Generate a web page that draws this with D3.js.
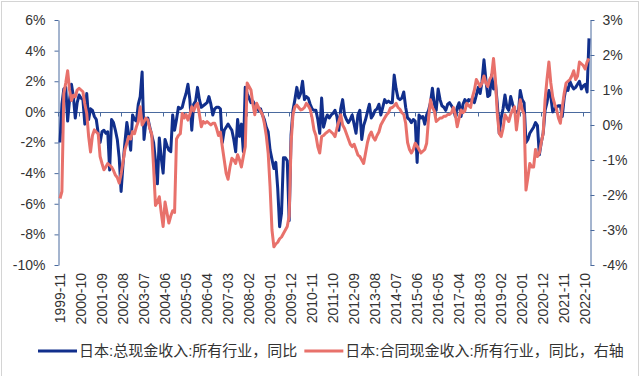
<!DOCTYPE html>
<html>
<head>
<meta charset="utf-8">
<script src="https://cdn.jsdelivr.net/npm/d3@7"></script>
<style>
  body { margin: 0; background: #fff; }
  svg text { font-family: "Liberation Sans", Arial, "Noto Sans CJK SC", sans-serif; fill: #333; }
</style>
</head>
<body>
<div id="chart"></div>
<script>
// monthly yoy, 1999-11 .. 2022-12
var startMonth = "1999-11";
var endMonth = "2022-12";

// total cash earnings, all industries, yoy % (left axis)
var totalCash = [
  -2.0, 0.5, 1.5, 1.6, -0.6, 0.8, 1.8, 1.0, -0.4, 0.6,
  1.1, 0.9, 0.8, -0.8, 1.2, -0.5, 0.2, 0.1, -0.3, -0.5,
  -1.4, -2.0, -1.3, -1.2, -1.4, -1.3, -3.8, -0.5, -0.7, -1.2,
  -1.8, -3.0, -5.2, -3.4, -2.0, -0.7, -1.5, -2.5, -0.2, -0.5,
  -0.6, 0.5, 1.0, 2.6, -1.8, -0.6, -0.4, -1.0, -1.5, -2.0,
  -3.2, -4.7, -1.7, -3.0, -4.0, -1.8, -2.2, -2.5, -2.6, -0.2,
  -1.2, -0.5, 0.3, 0.2, 0.3, 0.8, 1.2, 1.8, 0.8, -1.2,
  0.5, 0.7, 1.6, 0.8, 0.3, 0.4, 0.5, 0.6, 1.0, 0.5,
  -0.2, 0.2, 0.3, 0.3, 0.2, -2.0, -1.2, -1.0, -0.8, -1.0,
  -1.2, -1.8, -2.6, -0.5, -1.6, -0.8, -2.6, 1.6, 1.2, 0.9,
  0.6, 0.7, 0.5, 0.4, 0.1, 0.2, -0.2, -0.5, -1.0, -1.3,
  -2.5, -3.1, -3.7, -3.3, -5.0, -7.5, -6.6, -3.0, -3.0, -3.2,
  -7.1, -1.5, 0.1, 0.8, 1.6, 0.9, 1.2, 2.0, 0.8, 1.0,
  0.9, 0.5, 0.2, 0.1, 0.1, -0.5, -1.4, 0.9, -1.0, -0.5,
  -0.2, -0.4, -0.2, -0.1, 0.1, -0.3, -1.2, 0.2, 0.8, -0.2,
  -0.5, -0.7, -0.5, -0.2, -0.8, -1.4, -0.2, 0.1, -1.8, -0.9,
  -0.5, 0.0, 0.5, -0.4, -0.2, 0.1, 0.2, 0.5, -0.2, 0.3,
  0.8, 0.6, 0.7, 0.6, 0.6, 2.4, 1.5, 0.9, 0.8, 0.9,
  1.3, 0.3, -0.4, -0.5, -0.7, -0.5, -0.6, -3.3, -0.2, -0.4,
  -0.3, -0.8, -0.2, 0.1, 0.6, 1.55, 0.5, 0.1, 1.5, 0.8,
  0.4, 0.3, 0.1, 0.5, 0.6, 0.4, 0.2, -0.3, 0.3, 0.6,
  -0.3, 0.5, 0.8, 0.6, 0.8, 0.7, 0.9, 0.6, 1.1, 1.6,
  1.2, 2.0, 3.4, 2.1, 1.0, 1.1, 2.4, 1.5, 1.9, 0.5,
  -1.4, -0.4, 0.2, 1.1, 0.3, 0.1, 1.0, 0.5, 0.1, 0.0,
  -0.1, 1.4, 0.8, 0.6, -2.0, -1.8, -1.4, -1.2, -1.0, -0.7,
  -0.9, -2.8, -2.0, -1.4, 0.1, 0.6, 1.4, 1.0, 0.0, 0.2,
  0.3, 0.4, 0.4, -0.3, 0.9, 1.6, 1.4, 2.0, 1.7, 1.5,
  1.6, 1.8, 2.0, 1.5, 1.7, 1.8, 1.3, 4.8
];

// contractual cash earnings, all industries, yoy % (right axis)
var contractCash = [
  -2.1, -1.9, 0.9, 1.2, 1.55, 1.0, 0.7, 0.85, 0.8, 1.0,
  1.05, 1.0, 0.95, 0.6, 0.33, -0.33, -0.77, -0.3, -0.14, -0.2,
  -0.25, -0.9, -1.1, -1.28, -1.2, -1.1, -1.15, -1.2, -1.3, -1.43,
  -1.5, -1.66, -1.4, -1.06, -0.7, -0.52, -0.33, -0.4, -0.19, -0.25,
  -0.05, 0.1, 0.52, 0.0, 0.1, 0.2, 0.15, -0.1, -0.25, -1.2,
  -2.3, -2.2, -2.05, -2.5, -2.9, -2.2, -2.5, -2.8, -2.6, -2.45,
  -2.5, -0.4, -0.3, -0.25, 0.33, 0.2, 0.3, 0.14, 0.3, 0.52,
  0.4, 0.55, 0.62, 0.3, -0.05, 0.1, 0.05, 0.1, 0.05, 0.0,
  0.05, 0.05, -0.1, -0.3, -0.2, -0.62, -1.0, -1.38, -1.55, -1.2,
  -0.95, -1.0, -1.1, -0.85, -1.0, -1.2, -0.9, -0.62, 1.2, 1.1,
  1.0, 0.6, 0.29, 0.62, 0.5, 0.4, 0.3, 0.05, -0.3, -0.8,
  -1.76, -3.0, -3.48, -3.4, -3.35, -3.25, -3.2, -3.1, -3.0, -2.9,
  -2.6, -0.52, 0.3, 0.52, 0.57, 0.5, 0.43, 0.45, 0.5, 0.62,
  0.55, 0.45, 0.2, -0.14, -0.3, -0.62, -0.8, -0.33, -0.3, -0.24,
  -0.2, -0.15, -0.2, -0.25, -0.33, -0.1, 0.1, 0.29, 0.0, -0.1,
  -0.25, -0.4, -0.55, -0.62, -0.55, -0.7, -0.86, -0.9, -1.0, -1.1,
  -0.8, -0.5, -0.3, -0.2, -0.35, -0.43, -0.3, -0.2, 0.0, 0.1,
  0.2, 0.29, 0.35, 0.48, 0.5, 0.55, 0.62, 0.5, 0.45, 0.35,
  0.3, 0.05, -0.5, -0.7, -0.8, -0.7, -0.52, -0.6, -0.7, -0.8,
  -0.75, -0.7, -0.52, 0.2, 0.72, 0.5, 0.4, 0.1, 0.15, 0.2,
  0.2, 0.25, 0.25, 0.3, 0.3, 0.35, 0.5, 0.3, -0.05, 0.2,
  0.43, 0.35, 0.4, 0.62, 0.55, 0.5, 0.8, 1.0, 1.3, 1.2,
  1.1, 1.2, 1.4, 1.2, 1.1, 1.3, 1.4, 1.9, 1.3, 0.3,
  -0.24, -0.33, -0.1, 0.29, 0.2, 0.1, 0.3, 0.43, 0.52, -0.14,
  0.3, 0.72, 0.45, 0.3, -1.86, -1.5, -1.1, -1.2, -1.2, -0.7,
  -0.9, -0.8, -0.5, -0.24, 0.72, 1.3, 1.8, 1.2, 0.8, 0.6,
  0.45, 0.2, 0.05, 0.5, 0.9, 1.2, 1.25, 1.3, 1.4, 1.55,
  1.3, 1.4, 1.8, 1.75, 1.7, 1.6, 1.8, 1.9
];

var xTickLabels = ["1999-11", "2000-10", "2001-09", "2002-08", "2003-07", "2004-06",
  "2005-05", "2006-04", "2007-03", "2008-02", "2009-01", "2009-12", "2010-11",
  "2011-10", "2012-09", "2013-08", "2014-07", "2015-06", "2016-05", "2017-04",
  "2018-03", "2019-02", "2020-01", "2020-12", "2021-11", "2022-10"];
var leftTicks = [6, 4, 2, 0, -2, -4, -6, -8, -10];
var rightTicks = [3, 2, 1, 0, -1, -2, -3, -4];
var seriesNames = ["日本:总现金收入:所有行业，同比", "日本:合同现金收入:所有行业，同比，右轴"];
var seriesColors = ["#112f8c", "#e8716b"];

var width = 640, height = 376;
var axisColor = "#4a6a9e";

// month categories
var parseMonth = d3.timeParse("%Y-%m");
var fmtMonth = d3.timeFormat("%Y-%m");
var months = d3.timeMonth.range(parseMonth(startMonth), d3.timeMonth.offset(parseMonth(endMonth), 1)).map(fmtMonth);
if (months.length !== totalCash.length || months.length !== contractCash.length) {
  console.warn("length mismatch", months.length, totalCash.length, contractCash.length);
}

var x = d3.scalePoint().domain(months).range([60, 589]);
var yLeft = d3.scaleLinear().domain([-10, 6]).range([265, 20]);
var yRight = d3.scaleLinear().domain([-4, 3]).range([265, 20]);

var svg = d3.select("#chart").append("svg")
  .attr("width", width)
  .attr("height", height);

svg.append("rect")
  .attr("x", 1.5).attr("y", 1.5)
  .attr("width", width - 3).attr("height", height + 10)
  .attr("fill", "#fff")
  .attr("stroke", "#d4d4d4");

// left axis
var leftAxis = svg.append("g")
  .attr("transform", "translate(58.5,0)")
  .call(d3.axisLeft(yLeft).tickValues(leftTicks).tickFormat(function (d) { return d + "%"; })
    .tickSize(4).tickSizeOuter(0).tickPadding(9));

// right axis
var rightAxis = svg.append("g")
  .attr("transform", "translate(590.5,0)")
  .call(d3.axisRight(yRight).tickValues(rightTicks).tickFormat(function (d) { return d + "%"; })
    .tickSize(4).tickSizeOuter(0).tickPadding(8));

[leftAxis, rightAxis].forEach(function (g) {
  g.select(".domain").attr("stroke", axisColor);
  g.selectAll(".tick line").attr("stroke", axisColor);
  g.selectAll("text").style("font-size", "14px").attr("fill", "#333");
});

// horizontal category axis on the zero line of left axis
var zeroY = Math.round(yLeft(0)) + 0.5;
svg.append("line")
  .attr("x1", 58.5).attr("x2", 590.5)
  .attr("y1", zeroY).attr("y2", zeroY)
  .attr("stroke", axisColor);

svg.append("g").selectAll("line")
  .data(xTickLabels)
  .join("line")
  .attr("x1", function (d) { return Math.round(x(d)) - 1.5; })
  .attr("x2", function (d) { return Math.round(x(d)) - 1.5; })
  .attr("y1", zeroY).attr("y2", zeroY + 4)
  .attr("stroke", axisColor);

svg.append("g").selectAll("text")
  .data(xTickLabels)
  .join("text")
  .attr("transform", function (d) { return "translate(" + x(d) + ",273) rotate(-90)"; })
  .attr("text-anchor", "end")
  .attr("dy", "0.35em")
  .style("font-size", "14px")
  .text(function (d) { return d; });

// lines
var lineLeft = d3.line()
  .x(function (d, i) { return x(months[i]); })
  .y(function (d) { return yLeft(d); });
var lineRight = d3.line()
  .x(function (d, i) { return x(months[i]); })
  .y(function (d) { return yRight(d); });

svg.append("path")
  .datum(totalCash)
  .attr("fill", "none")
  .attr("stroke", seriesColors[0])
  .attr("stroke-width", 3)
  .attr("stroke-linejoin", "round")
  .attr("d", lineLeft);

svg.append("path")
  .datum(contractCash)
  .attr("fill", "none")
  .attr("stroke", seriesColors[1])
  .attr("stroke-width", 3)
  .attr("stroke-linejoin", "round")
  .attr("d", lineRight);

// legend
var legend = svg.append("g").attr("transform", "translate(0,351)");
var lx = 38;
seriesNames.forEach(function (name, i) {
  legend.append("line")
    .attr("x1", lx).attr("x2", lx + 39)
    .attr("y1", 0).attr("y2", 0)
    .attr("stroke", seriesColors[i])
    .attr("stroke-width", 3);
  var t = legend.append("text")
    .attr("x", lx + 41)
    .attr("dy", "0.35em")
    .style("font-size", "15px")
    .text(name);
  lx = lx + 41 + t.node().getComputedTextLength() + 7;
});
</script>
</body>
</html>
